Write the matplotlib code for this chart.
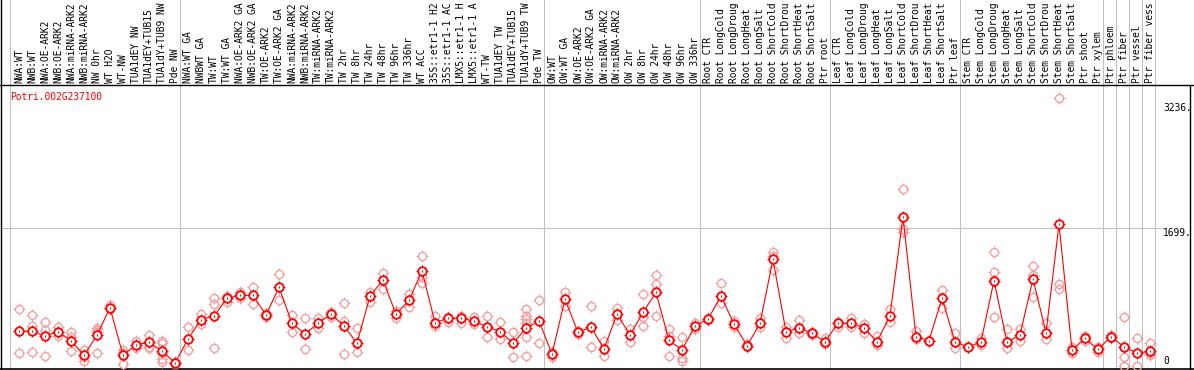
import numpy as np
import matplotlib
matplotlib.use("Agg")
import matplotlib.pyplot as plt
from matplotlib.path import Path

# sample labels (column order), as far as they show in the header
labels = [
    "NWA:WT", "NWB:WT", "NWA:OE-ARK2", "NWB:OE-ARK2", "NWA:miRNA-ARK2",
    "NWB:miRNA-ARK2", "NW 0hr", "WT H2O", "WT-NW", "TUA1dEY NW",
    "TUA1dEY+TUB15", "TUA1dY+TUB9 NW", "Pde NW",
    "NWA:WT GA", "NWBWT GA", "TW:WT", "TW:WT GA", "NWA:OE-ARK2 GA",
    "NWB:OE-ARK2 GA", "TW:OE-ARK2", "TW:OE-ARK2 GA", "NWA:miRNA-ARK2",
    "NWB:miRNA-ARK2", "TW:miRNA-ARK2", "TW:miRNA-ARK2", "TW 2hr",
    "TW 8hr", "TW 24hr", "TW 48hr", "TW 96hr", "TW 336hr", "WT ACC",
    "35S::etr1-1 H2", "35S::etr1-1 AC", "LMX5::etr1-1 H",
    "LMX5::etr1-1 A", "WT-TW", "TUA1dEY TW", "TUA1dEY+TUB15",
    "TUA1dY+TUB9 TW", "Pde TW",
    "OW:WT", "OW:WT GA", "OW:OE-ARK2", "OW:OE-ARK2 GA", "OW:miRNA-ARK2",
    "OW:miRNA-ARK2", "OW 2hr", "OW 8hr", "OW 24hr", "OW 48hr", "OW 96hr",
    "OW 336hr",
    "Root CTR", "Root LongCold", "Root LongDroug", "Root LongHeat",
    "Root LongSalt", "Root ShortCold", "Root ShortDrou", "Root ShortHeat",
    "Root ShortSalt", "Ptr root",
    "Leaf CTR", "Leaf LongCold", "Leaf LongDroug", "Leaf LongHeat",
    "Leaf LongSalt", "Leaf ShortCold", "Leaf ShortDrou", "Leaf ShortHeat",
    "Leaf ShortSalt", "Ptr leaf",
    "Stem CTR", "Stem LongCold", "Stem LongDroug", "Stem LongHeat",
    "Stem LongSalt", "Stem ShortCold", "Stem ShortDrou", "Stem ShortHeat",
    "Stem ShortSalt", "Ptr shoot", "Ptr xylem",
    "Ptr phloem", "Ptr fiber", "Ptr vessel", "Ptr fiber vess",
]

# mean expression per sample
means = [
    427, 427, 369, 423, 312, 131, 380, 718, 131, 262, 291, 185, 37,
    332, 571, 616, 833, 870, 870, 628, 969, 525, 394, 525, 640, 493, 279,
    862, 1059, 636, 809, 1170, 534, 587, 587, 554, 484, 423, 283, 464, 554,
    148, 821, 415, 480, 209, 640, 382, 661, 907, 316, 197, 493,
    579, 862, 517, 250, 525, 1314, 419, 468, 402, 300,
    525, 525, 468, 300, 620, 1839, 361, 312, 833, 300,
    230, 300, 1051, 291, 386, 1071, 410, 1745, 197, 340, 205,
    361, 235, 160, 180,
]

# replicate values per sample
reps = [
    [698, 160], [624, 493, 168], [538, 443, 123], [484, 374, 423],
    [423, 361, 181], [197, 115, 66], [472, 443, 423, 156], [751, 698, 718],
    [197, 21, 160], [308, 226, 263], [382, 292, 238, 218],
    [304, 279, 156, 91, 49], [37, 30, 45],
    [476, 193], [636, 517], [833, 764, 218], [862, 784], [907, 841],
    [969, 768], [657, 608], [1129, 809], [628, 423], [587, 205], [595, 464],
    [669, 608], [772, 558, 148], [472, 168], [911, 792], [1141, 944],
    [682, 591], [887, 731], [1351, 1100, 1018], [620, 497], [608, 546],
    [620, 525], [608, 513], [616, 361], [538, 328], [415, 107],
    [698, 620, 575, 525, 361, 123], [813, 279],
    [177, 115], [911, 739], [431, 394], [739, 230], [308, 123], [718, 566],
    [456, 300], [887, 608, 493], [1121, 1010, 616], [452, 370, 123],
    [361, 95, 66], [534, 452],
    [595, 563], [1018, 772], [558, 476], [271, 230], [595, 484],
    [1408, 1182, 1350], [484, 349], [567, 402], [423, 380], [349, 271],
    [546, 484], [587, 476], [517, 402], [374, 259], [702, 540],
    [2176, 1683, 1654], [431, 328], [312, 312], [936, 710], [402, 218],
    [230, 230], [341, 260], [1400, 1154, 599], [456, 218], [452, 312],
    [1232, 1121, 846], [525, 328], [3300, 1010, 944], [238, 160],
    [374, 306], [177, 233], [382, 340], [604, 115, 0], [340, 0],
    [280, 164, 135],
]

# last column of each group (vertical separators)
group_ends = [12, 40, 52, 62, 72, 83, 84, 85, 86, 87]
gene = "Potri.002G237100"
ytick_vals = [3236, 1699, 0]

W, H = 1194, 370
fig = plt.figure(figsize=(W / 100, H / 100), dpi=100)

# pixel -> data helpers for layout
x0, dx = 19.0, 13.0
xlim = ((0 - x0) / dx, (W - x0) / dx)
y0, dy = 366.0, 0.0812
head_h = 85

ax = fig.add_axes([0, 0, 1, (H - head_h) / H])
ax.set_xlim(*xlim)
ax.set_ylim((y0 - H) / dy, (y0 - head_h) / dy)
ax.axis("off")

axh = fig.add_axes([0, (H - head_h) / H, 1, head_h / H])
axh.set_xlim(*xlim)
axh.set_ylim(head_h, 0)
axh.axis("off")

gray = "#c0c0c0"
lw1 = 0.75
mono = "DejaVu Sans Mono"
fs = 6.9

# separators
seps = [-0.7] + [e + 0.4 for e in group_ends]
for s in seps:
    ax.axvline(s, color=gray, lw=lw1, zorder=1)
    axh.axvline(s, color=gray, lw=lw1, zorder=1)

ax.axhline(1699, xmin=0, xmax=(88 - xlim[0]) / (xlim[1] - xlim[0]),
           color=gray, lw=lw1, zorder=1)

# frame lines
axh.axhline(head_h - 0.5, color="black", lw=1.0, clip_on=False)
xl = (1 - x0) / dx
ax.axvline(xl, color="black", lw=1.0)
axh.axvline(xl, color="black", lw=1.0)
ax.axvline((1189.5 - x0) / dx, color="black", lw=1.0)
ax.axhline((y0 - 369) / dy, color="black", lw=1.2)

# header labels
for i, lab in enumerate(labels):
    axh.text(i, 83, lab, rotation=90, ha="center", va="bottom",
             family=mono, fontsize=fs, color="black")

# small ticks around each circle
ticks = Path(
    [(0, 1), (0, 1.45), (0, -1), (0, -1.45), (1, 0), (1.45, 0), (-1, 0), (-1.45, 0)],
    [Path.MOVETO, Path.LINETO] * 4,
)

x = np.arange(len(means))
rep_col = "#f0a0a0"

# replicates
for i, r in enumerate(reps):
    xs = np.full(len(r), i)
    ax.plot(xs, r, ls="none", marker=ticks, ms=8.4, mew=0.8, color=rep_col, zorder=2)
    ax.plot(xs, r, ls="none", marker="o", ms=5.8, mew=1.0, mfc="none",
            mec=rep_col, zorder=2)

# mean line
ax.plot(x, means, color="red", lw=0.8, zorder=3)
ax.plot(x, means, ls="none", marker=ticks, ms=8.8, mew=0.9, color="red", zorder=4)
ax.plot(x, means, ls="none", marker="o", ms=6.1, mew=1.3, mfc="white",
        mec="red", zorder=5)
ax.plot(x, means, ls="none", marker="|", ms=2.0, mew=0.8, color="red", zorder=6)

# gene name
ax.text((10 - x0) / dx, (y0 - 97) / dy, gene, color="red", family=mono,
        fontsize=fs, ha="left", va="center")

# right-hand value labels
tx = (1163 - x0) / dx
for v in ytick_vals:
    txt = "0" if v == 0 else f"{v}."
    ax.text(tx, v, txt, family=mono, fontsize=fs, ha="left",
            va="bottom" if v == 0 else "top", color="black")

fig.savefig("out.png", dpi=100)
